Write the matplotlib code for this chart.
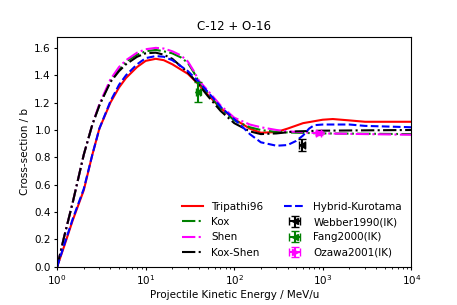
import numpy as np
import matplotlib
matplotlib.use('Agg')
import matplotlib.pyplot as plt

# energies (MeV/u) and cross-sections (b)
e_trip = [1, 1.2, 1.5, 2, 2.5, 3, 4, 5, 6, 8, 10, 13, 16, 20, 30, 40, 50, 70,
          100, 150, 200, 300, 400, 600, 1000, 1300, 2000, 3000, 10000]
s_trip = [0, 0.15, 0.34, 0.56, 0.82, 1.01, 1.2, 1.31, 1.38, 1.46, 1.505, 1.52,
          1.51, 1.48, 1.41, 1.33, 1.26, 1.16, 1.08, 1.01, 0.98, 0.985, 1.01,
          1.05, 1.075, 1.08, 1.07, 1.06, 1.06]

e_kox = [1, 1.2, 1.5, 2, 2.5, 3, 4, 5, 6, 8, 10, 13, 16, 20, 25, 30, 35, 40,
         50, 70, 100, 150, 200, 300, 500, 1000, 10000]
s_kox = [0, 0.22, 0.47, 0.82, 1.04, 1.18, 1.36, 1.44, 1.5, 1.55, 1.575, 1.585,
         1.575, 1.56, 1.53, 1.49, 1.42, 1.35, 1.27, 1.16, 1.07, 1.02, 1.0,
         0.985, 0.98, 0.975, 0.97]

e_shen = [1, 1.2, 1.5, 2, 2.5, 3, 4, 5, 6, 8, 10, 13, 16, 20, 25, 30, 35, 40,
          50, 70, 100, 150, 200, 300, 400, 1000, 3000, 10000]
s_shen = [0, 0.22, 0.47, 0.82, 1.04, 1.19, 1.37, 1.46, 1.51, 1.565, 1.59, 1.6,
          1.595, 1.575, 1.545, 1.5, 1.43, 1.36, 1.29, 1.18, 1.09, 1.04, 1.02,
          1.0, 0.99, 0.975, 0.97, 0.965]

e_koxshen = [1, 1.2, 1.5, 2, 2.5, 3, 4, 5, 6, 8, 10, 13, 16, 20, 30, 40, 50,
             70, 100, 150, 200, 300, 500, 1000, 10000]
s_koxshen = [0, 0.22, 0.47, 0.82, 1.04, 1.18, 1.35, 1.43, 1.48, 1.535, 1.56,
             1.565, 1.55, 1.52, 1.42, 1.33, 1.25, 1.14, 1.05, 0.99, 0.97,
             0.975, 0.99, 0.995, 1.0]

e_hyb = [1, 1.2, 1.5, 2, 2.5, 3, 4, 5, 6, 8, 10, 13, 16, 20, 30, 40, 50, 70,
         100, 130, 150, 200, 300, 400, 500, 600, 700, 800, 1000, 2000, 3000,
         10000]
s_hyb = [0, 0.16, 0.35, 0.57, 0.82, 1.01, 1.21, 1.33, 1.4, 1.48, 1.525, 1.54,
         1.535, 1.51, 1.43, 1.35, 1.28, 1.17, 1.08, 1.01, 0.97, 0.91, 0.885,
         0.89, 0.92, 0.96, 1.01, 1.035, 1.04, 1.04, 1.03, 1.02]

# measurements
webber_e, webber_s, webber_xerr, webber_yerr = [585], [0.89], [40], [0.045]
fang_e, fang_s, fang_xerr, fang_yerr = [39.5], [1.28], [2], [0.073]
ozawa_e, ozawa_s, ozawa_xerr, ozawa_yerr = [900], [0.98], [60], [0.015]

fig, ax = plt.subplots(figsize=(4.57, 3.05), dpi=100)
fig.subplots_adjust(left=0.125, right=0.9, top=0.879, bottom=0.125)

l1, = ax.plot(e_trip, s_trip, color='red', ls='-', lw=1.5, label='Tripathi96')
l2, = ax.plot(e_kox, s_kox, color='green', ls='-.', lw=1.5, label='Kox')
l3, = ax.plot(e_shen, s_shen, color='magenta', ls='-.', lw=1.5, label='Shen')
l4, = ax.plot(e_koxshen, s_koxshen, color='black', ls='-.', lw=1.5, label='Kox-Shen')
l5, = ax.plot(e_hyb, s_hyb, color='blue', ls='--', lw=1.5, label='Hybrid-Kurotama')

h1 = ax.errorbar(webber_e, webber_s, xerr=webber_xerr, yerr=webber_yerr,
                 fmt='<', color='black', ms=5, capsize=3, label='Webber1990(IK)')
h2 = ax.errorbar(fang_e, fang_s, xerr=fang_xerr, yerr=fang_yerr,
                 fmt='<', color='green', ms=5, capsize=3, label='Fang2000(IK)')
h3 = ax.errorbar(ozawa_e, ozawa_s, xerr=ozawa_xerr, yerr=ozawa_yerr,
                 fmt='>', color='magenta', ms=5, capsize=3, label='Ozawa2001(IK)')

ax.set_xscale('log')
ax.set_xlim(1, 1e4)
ax.set_ylim(0, 1.68)
ax.set_yticks(np.arange(0, 1.61, 0.2))
ax.tick_params(which='major', labelsize=7.5, length=2.5, pad=2)
ax.tick_params(which='minor', length=1.5)
ax.set_xlabel('Projectile Kinetic Energy / MeV/u', fontsize=7.5, labelpad=2)
ax.set_ylabel('Cross-section / b', fontsize=7.5, labelpad=3)
ax.set_title('C-12 + O-16', fontsize=8.5, pad=5)

ax.legend(handles=[l1, l2, l3, l4, l5, h1, h2, h3], ncol=2, loc='lower right',
          frameon=False, fontsize=7.5)

fig.savefig('out.png', dpi=100)
